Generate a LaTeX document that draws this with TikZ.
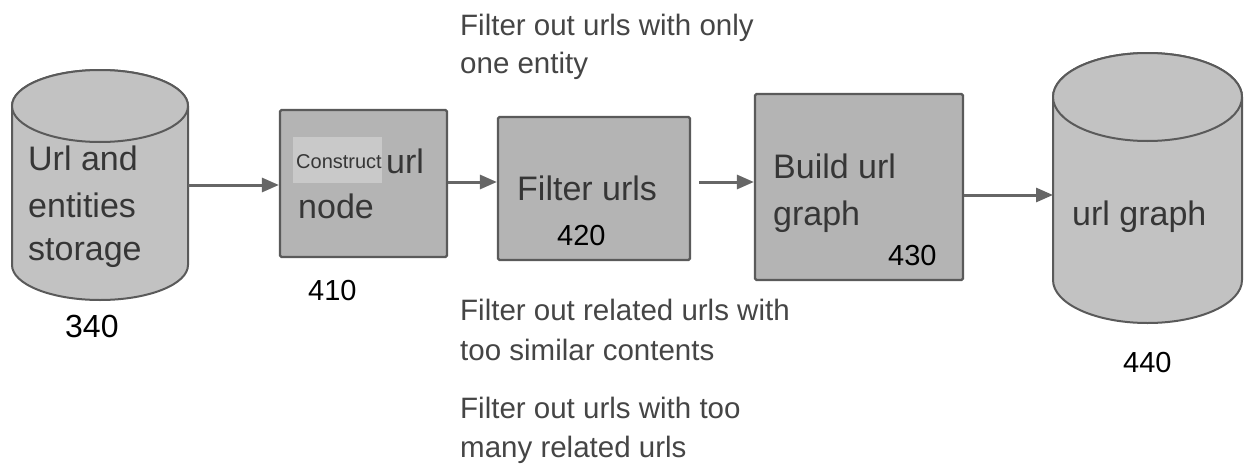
\documentclass[tikz,border=0pt]{standalone}
\usepackage{fontspec}
\setmainfont{Liberation Sans}
\usetikzlibrary{arrows.meta}
\definecolor{boxfill}{HTML}{B4B4B4}
\definecolor{dbfill}{HTML}{C2C2C2}
\definecolor{edge}{HTML}{5A5A5A}
\definecolor{ink}{HTML}{363636}
\definecolor{note}{HTML}{454545}
\definecolor{hilite}{HTML}{C9C9C9}
\definecolor{wire}{HTML}{666666}
\begin{document}
\begin{tikzpicture}[x=1pt,y=-1pt,
  procbox/.style={draw=edge,fill=boxfill,line width=2.2pt,rounded corners=1.5pt,inner sep=0pt},
  dbshape/.style={draw=edge,fill=dbfill,line width=2pt},
  holder/.style={inner sep=0pt,outer sep=0pt},
  big/.style={font=\fontsize{34}{40}\selectfont,text=ink,anchor=base west,inner sep=0pt},
  num/.style={font=\fontsize{29}{34}\selectfont,text=black,anchor=base west,inner sep=0pt},
  notetext/.style={font=\fontsize{29.5}{39}\selectfont,text=note,anchor=base west,inner sep=0pt},
  flow/.style={draw=wire,line width=3pt,-{Triangle[length=17pt,width=14pt]}}]
\useasboundingbox (0,0) rectangle (1244,471);

% storage cylinder 340
\path[dbshape] (12,106) -- (12,265)
  arc[start angle=180,end angle=360,x radius=88pt,y radius=35pt]
  -- (188,106) arc[start angle=0,end angle=180,x radius=88pt,y radius=36pt] -- cycle;
\path[dbshape] (100,106) ellipse[x radius=88pt,y radius=36pt];
\node[holder,minimum width=176pt,minimum height=230pt] (db340) at (100,185) {};

% url graph cylinder 440
\path[dbshape] (1053,97) -- (1053,280)
  arc[start angle=180,end angle=360,x radius=94.5pt,y radius=43pt]
  -- (1242,97) arc[start angle=0,end angle=180,x radius=94.5pt,y radius=44pt] -- cycle;
\path[dbshape] (1147.5,97) ellipse[x radius=94.5pt,y radius=44pt];
\node[holder,minimum width=189pt,minimum height=270pt] (db440) at (1147.5,188) {};

% process boxes
\node[procbox,minimum width=167pt,minimum height=147pt] (p410) at (363.5,183.5) {};
\node[procbox,minimum width=192pt,minimum height=143pt] (p420) at (594,188.5) {};
\node[procbox,minimum width=208pt,minimum height=186pt] (p430) at (859,187) {};

% connectors
\draw[flow] (db340.east) -- (db340.east -| p410.west);
\draw[flow] ([yshift=1.5pt]p410.east) -- ([yshift=1.5pt]p410.east -| p420.west);
\draw[flow,shorten <=8pt] ([yshift=6.5pt]p420.east) -- ([yshift=6.5pt]p420.east -| p430.west);
\draw[flow] ([yshift=-8pt]p430.east) -- ([yshift=-8pt]p430.east -| db440.west);

% labels inside the shapes
\node[big] (t340a) at (28,170) {Url and};
\node[big] (t340b) at (28,217) {entities};
\node[big] (t340c) at (28,260) {storage};

\fill[hilite] (293,137) rectangle (382,183);
\node[font=\fontsize{20}{24}\selectfont,text=ink,anchor=base west,inner sep=0pt] (t410a) at (296,168) {Construct};
\node[big] (t410b) at (386,173) {url};
\node[big] (t410c) at (298,218) {node};

\node[big] (t420) at (517,200) {Filter urls};
\node[big] (t430a) at (773,178) {Build url};
\node[big] (t430b) at (773,225) {graph};
\node[big] (t440) at (1072,225) {url graph};

% reference numerals
\node[num,font=\fontsize{32}{36}\selectfont] (n340) at (65,337) {340};
\node[num] (n410) at (308,300) {410};
\node[num] (n420) at (557,245) {420};
\node[num] (n430) at (888,265) {430};
\node[num] (n440) at (1123,372) {440};

% filter criteria
\node[notetext] (c1a) at (460,35) {Filter out urls with only};
\node[notetext] (c1b) at (460,73) {one entity};
\node[notetext] (c2a) at (460,320) {Filter out related urls with};
\node[notetext] (c2b) at (460,360) {too similar contents};
\node[notetext] (c3a) at (460,418) {Filter out urls with too};
\node[notetext] (c3b) at (460,457) {many related urls};
\end{tikzpicture}
\end{document}
